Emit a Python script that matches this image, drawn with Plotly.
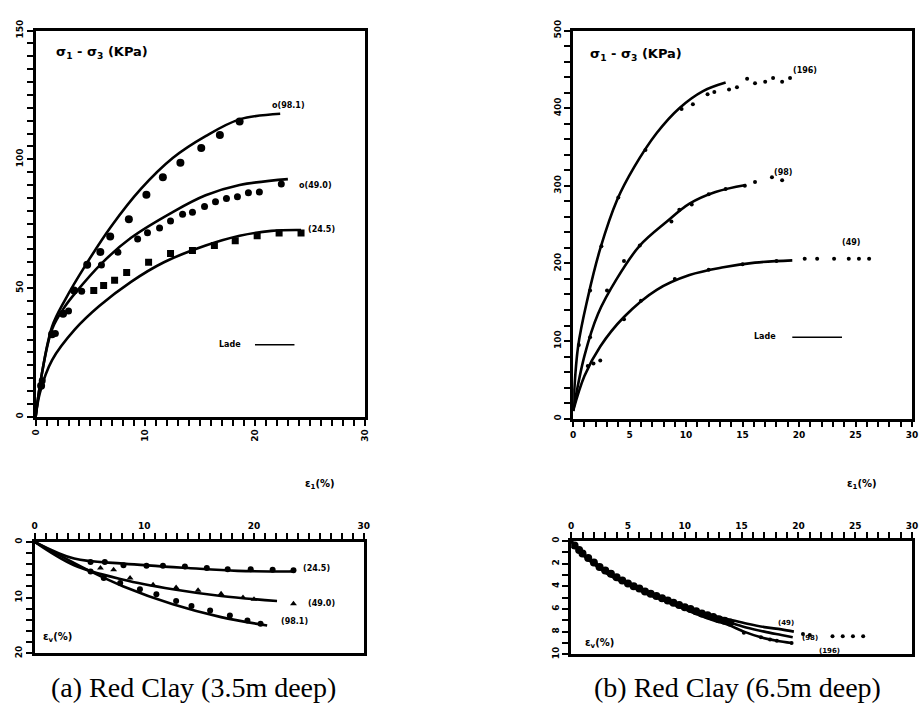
import plotly.graph_objects as go

W, H = 921, 717

# ---------------- data: (a) Red Clay 3.5 m, deviator stress ----------------
a_lade_981_x = [0, 0.5, 1.5, 2.7, 4.5, 6.9, 9.6, 12.5, 15.5, 18.6, 22.3]
a_lade_981_y = [0, 15, 35, 45.5, 58.5, 74, 88.5, 100.5, 109, 115.5, 117.7]
a_lade_490_x = [0, 0.5, 1.5, 2.7, 3.6, 6.0, 8.7, 12.5, 15.5, 18.6, 23.0]
a_lade_490_y = [0, 15, 34, 43, 48, 59.5, 69.5, 79.5, 86, 90, 92.3]
a_lade_245_x = [0, 0.4, 1.5, 3.6, 5.8, 8.7, 11.7, 15.5, 18.6, 21.5, 24.2]
a_lade_245_y = [0, 9.5, 22, 34, 43, 52.4, 60, 66.5, 70.3, 72.2, 72.5]

a_test_981_x = [0.5, 1.5, 2.5, 3.5, 4.7, 5.9, 6.8, 8.5, 10.1, 11.6, 13.2, 15.1, 16.8, 18.6]
a_test_981_y = [12, 32, 40, 49, 59, 64, 70, 76.7, 86.2, 93, 98.7, 104.4, 109.4, 114.7]
a_test_490_x = [0.6, 1.8, 3.0, 4.2, 6.0, 7.5, 9.3, 10.2, 11.3, 12.3, 13.4, 14.3, 15.4, 16.4,
                17.4, 18.4, 19.4, 20.4, 22.4]
a_test_490_y = [14, 32.3, 41.1, 48.7, 58.9, 63.9, 69, 71.5, 73.3, 76, 78.6, 79.4, 81.7, 83.5,
                84.8, 85.4, 87, 87.3, 90.4]
a_test_245_x = [5.3, 6.2, 7.2, 8.3, 10.3, 12.3, 14.3, 16.3, 18.2, 20.2, 22.2, 24.2]
a_test_245_y = [49, 51, 53, 56, 60, 63.4, 64.6, 66.5, 68.4, 70.3, 71.4, 71.4]

# ---------------- data: (a) volumetric strain ----------------
a_v_lade_245_x = [0, 3.6, 8.1, 14.0, 18.5, 23.6]
a_v_lade_245_y = [0, 3.0, 3.9, 4.7, 5.2, 5.3]
a_v_lade_490_x = [0, 3.6, 8.1, 12.6, 17.0, 22.1]
a_v_lade_490_y = [0, 4.2, 6.8, 8.5, 9.7, 10.6]
a_v_lade_981_x = [0, 5.1, 8.1, 12.6, 17.0, 21.2]
a_v_lade_981_y = [0, 5.3, 8.0, 11.2, 13.5, 15.0]

a_v_test_245_x = [5.1, 6.4, 8.1, 10.2, 11.7, 13.7, 15.7, 17.6, 19.7, 21.7, 23.6]
a_v_test_245_y = [3.6, 3.6, 4.2, 4.3, 4.3, 4.4, 4.7, 4.9, 4.9, 5.0, 5.1]
a_v_test_490_x = [6.0, 7.2, 8.7, 10.8, 12.9, 14.9, 17.0, 19.0, 20.0, 23.6]
a_v_test_490_y = [4.7, 5.0, 6.5, 7.7, 8.2, 8.7, 9.3, 10.0, 10.3, 11.1]
a_v_test_981_x = [5.1, 6.3, 7.8, 9.6, 11.1, 12.9, 14.3, 16.0, 17.8, 19.4, 20.6]
a_v_test_981_y = [5.3, 6.5, 7.4, 8.5, 9.4, 10.6, 11.5, 12.3, 13.2, 14.1, 14.7]

# ---------------- data: (b) Red Clay 6.5 m, deviator stress ----------------
b_lade_196_x = [0, 0.44, 1.3, 2.4, 3.9, 5.4, 7.4, 9.4, 11.5, 13.5]
b_lade_196_y = [10, 93, 156, 219, 282, 324, 368, 400, 422, 433]
b_lade_98_x = [0, 1.0, 2.2, 3.9, 5.9, 8.3, 10.3, 12.6, 15.3]
b_lade_98_y = [10, 81, 135, 181, 223, 254, 277, 292, 301]
b_lade_49_x = [0, 1.0, 2.4, 4.5, 7.4, 10.3, 13.3, 16.1, 19.4]
b_lade_49_y = [10, 55, 93, 131, 166, 185, 195, 201, 204]

b_test_196_x = [0.5, 1.5, 2.5, 4.0, 6.4, 9.6, 10.6, 11.9, 12.5, 13.8, 14.5, 15.4, 16.1, 17.0,
                17.7, 18.5, 19.2]
b_test_196_y = [95, 165, 222, 285, 346, 399, 405, 418, 421, 424, 427, 438, 432, 434, 439, 434, 439]
b_test_98_x = [1.5, 3.0, 4.5, 5.9, 8.7, 9.4, 10.5, 12.0, 13.5, 15.2, 16.1, 17.6, 18.5]
b_test_98_y = [105, 165, 203, 223, 254, 269, 276, 289, 296, 300, 305, 311, 307]
b_test_49_x = [1.3, 1.8, 2.4, 4.5, 6.0, 9.0, 12.0, 15.0, 18.0, 20.5, 21.6, 23.1, 24.4, 25.3, 26.2]
b_test_49_y = [68, 71, 75, 128, 152, 180, 192, 199, 203, 206, 206, 206, 206, 206, 206]

# ---------------- data: (b) volumetric strain ----------------
b_v_lade_49_x = [0, 1, 2.2, 3.5, 5.1, 6.5, 8, 9.5, 10.9, 12.5, 13.8, 15.5, 17, 18.5, 19.6]
b_v_lade_49_y = [0, 1.1, 2.0, 2.9, 3.7, 4.4, 5.0, 5.6, 6.1, 6.6, 6.9, 7.3, 7.6, 7.8, 8.0]
b_v_lade_98_x = [0, 1, 2.2, 3.5, 5.1, 6.5, 8, 9.5, 10.9, 12.5, 13.8, 15.5, 17, 18.5, 19.5]
b_v_lade_98_y = [0, 1.15, 2.1, 3.0, 3.8, 4.5, 5.1, 5.7, 6.25, 6.8, 7.15, 7.65, 8.0, 8.3, 8.5]
b_v_lade_196_x = [0, 1, 2.2, 3.5, 5.1, 6.5, 8, 9.5, 10.9, 12.5, 13.8, 15.2, 16.7, 18.1, 19.4]
b_v_lade_196_y = [0, 1.2, 2.2, 3.1, 3.9, 4.6, 5.2, 5.8, 6.4, 7.0, 7.4, 8.0, 8.5, 8.8, 9.0]

b_v_test_x = [0.3, 0.7, 1.0, 1.5, 2.0, 2.5, 3.0, 3.5, 4.0, 4.5, 5.0, 5.5, 6.0, 6.5, 7.0, 7.5,
              8.0, 8.5, 9.0, 9.5, 10.0, 10.5, 11.0, 11.5, 12.0, 12.5, 13.0, 13.5, 14.0]
b_v_test_y = [0.4, 0.8, 1.1, 1.5, 1.9, 2.3, 2.6, 2.9, 3.2, 3.5, 3.75, 4.0, 4.2, 4.45, 4.65, 4.85,
              5.05, 5.25, 5.45, 5.65, 5.85, 6.0, 6.2, 6.4, 6.55, 6.7, 6.9, 7.05, 7.2]
b_v_test_196_x = [15.2, 16.7, 17.5, 18.1, 19.4]
b_v_test_196_y = [8.1, 8.5, 8.7, 8.8, 9.0]
b_v_test_98_x = [20.4, 21.0]
b_v_test_98_y = [8.2, 8.3]
b_v_test_49_x = [23.0, 23.9, 24.8, 25.7]
b_v_test_49_y = [8.4, 8.4, 8.4, 8.4]

# legend sample lines ("Lade ——"), in each panel's data units
a_key_x = [20.0, 23.6]
a_key_y = [28, 28]
b_key_x = [19.4, 23.8]
b_key_y = [105, 105]

# tick labels
a_top_xticks = [0, 10, 20, 30]
a_top_yticks = [0, 50, 100, 150]
b_top_xticks = [0, 5, 10, 15, 20, 25, 30]
b_top_yticks = [0, 100, 200, 300, 400, 500]
a_bot_yticks = [0, 10, 20]
b_bot_yticks = [0, 2, 4, 6, 8, 10]

# ---------------- figure ----------------
def px(x):
    return x / W

def py(y):
    return 1 - y / H

fig = go.Figure()

LW = 2.6
def lade(x, y, xa, ya, width=LW):
    fig.add_trace(go.Scatter(x=x, y=y, mode="lines",
                             line=dict(color="black", width=width, shape="spline", smoothing=1.0),
                             xaxis=xa, yaxis=ya, showlegend=False))

def test(x, y, xa, ya, size=7, symbol="circle"):
    fig.add_trace(go.Scatter(x=x, y=y, mode="markers", marker=dict(color="black", size=size, symbol=symbol),
                             xaxis=xa, yaxis=ya, showlegend=False))

# (a) top
lade(a_lade_981_x, a_lade_981_y, "x", "y")
lade(a_lade_490_x, a_lade_490_y, "x", "y")
lade(a_lade_245_x, a_lade_245_y, "x", "y")
test(a_test_981_x, a_test_981_y, "x", "y", 8)
test(a_test_490_x, a_test_490_y, "x", "y", 7)
test(a_test_245_x, a_test_245_y, "x", "y", 7, "square")
lade(a_key_x, a_key_y, "x", "y", 1.5)

# (b) top
lade(b_lade_196_x, b_lade_196_y, "x2", "y2")
lade(b_lade_98_x, b_lade_98_y, "x2", "y2")
lade(b_lade_49_x, b_lade_49_y, "x2", "y2")
test(b_test_196_x, b_test_196_y, "x2", "y2", 4)
test(b_test_98_x, b_test_98_y, "x2", "y2", 4)
test(b_test_49_x, b_test_49_y, "x2", "y2", 4)
lade(b_key_x, b_key_y, "x2", "y2", 1.5)

# (a) bottom
lade(a_v_lade_245_x, a_v_lade_245_y, "x3", "y3")
lade(a_v_lade_490_x, a_v_lade_490_y, "x3", "y3")
lade(a_v_lade_981_x, a_v_lade_981_y, "x3", "y3")
test(a_v_test_245_x, a_v_test_245_y, "x3", "y3", 6)
test(a_v_test_490_x, a_v_test_490_y, "x3", "y3", 6, "triangle-up")
test(a_v_test_981_x, a_v_test_981_y, "x3", "y3", 6)

# (b) bottom
lade(b_v_lade_49_x, b_v_lade_49_y, "x4", "y4")
lade(b_v_lade_98_x, b_v_lade_98_y, "x4", "y4")
lade(b_v_lade_196_x, b_v_lade_196_y, "x4", "y4")
test(b_v_test_x, b_v_test_y, "x4", "y4", 8)
test(b_v_test_196_x, b_v_test_196_y, "x4", "y4", 4)
test(b_v_test_98_x, b_v_test_98_y, "x4", "y4", 4)
test(b_v_test_49_x, b_v_test_49_y, "x4", "y4", 4)

tickfont = dict(family="DejaVu Sans", size=9, color="black", weight="bold")

def axis(domain, rng, labels, step, anchor, side=None, tickangle=0):
    lo, hi = min(rng), max(rng)
    n = int(round((hi - lo) / step))
    vals = [lo + i * step for i in range(n + 1)]
    texts = [str(v) if v in labels else " " for v in vals]
    d = dict(domain=domain, range=rng, tickmode="array", tickvals=vals, ticktext=texts,
             ticks="outside", ticklen=6, tickwidth=2, tickcolor="black",
             showline=True, linecolor="black", linewidth=LW, mirror=True,
             showgrid=False, zeroline=False, tickfont=tickfont, tickangle=tickangle,
             anchor=anchor)
    if side:
        d["side"] = side
    return d

fig.update_layout(
    width=W, height=H, margin=dict(l=0, r=0, t=0, b=0),
    paper_bgcolor="white", plot_bgcolor="white", showlegend=False,
    xaxis=axis([px(31), px(364)], [0, 30], a_top_xticks, 1, "y", tickangle=-90),
    yaxis=axis([py(415), py(20)], [0, 150], a_top_yticks, 5, "x", tickangle=-90),
    xaxis2=axis([px(575), px(918)], [0, 30], b_top_xticks, 1, "y2"),
    yaxis2=axis([py(417), py(20)], [0, 500], b_top_yticks, 20, "x2", tickangle=-90),
    xaxis3=axis([px(30), px(363)], [0, 30], a_top_xticks, 1, "y3", side="top"),
    yaxis3=axis([py(657), py(543)], [20, 0], a_bot_yticks, 2, "x3", tickangle=-90),
    xaxis4=axis([px(573), px(918)], [0, 30], b_top_xticks, 1, "y4", side="top"),
    yaxis4=axis([py(658), py(542)], [10, 0], b_bot_yticks, 1, "x4", tickangle=-90),
)

sans = dict(family="DejaVu Sans", color="black")
anns = []
def ann(text, x, y, size, xanchor="left", font=None, bold=True):
    f = dict(font or sans)
    f["size"] = size
    t = "<b>" + text + "</b>" if bold else text
    anns.append(dict(text=t, x=x, y=y, xref="paper", yref="paper", xanchor=xanchor,
                     yanchor="middle", showarrow=False, font=f))

ann("σ<sub>1</sub> - σ<sub>3</sub> (KPa)", px(50), py(42), 13)
ann("σ<sub>1</sub> - σ<sub>3</sub> (KPa)", px(590), py(45), 13)
ann("ε<sub>1</sub>(%)", px(302), py(484), 10)
ann("ε<sub>1</sub>(%)", px(850), py(484), 10)
ann("ε<sub>v</sub>(%)", px(36), py(641), 10)
ann("ε<sub>v</sub>(%)", px(585), py(647), 10)
ann("Lade", px(215), py(341), 8)
ann("Lade", px(756), py(333), 8)
# curve labels (a) top
ann("o(98.1)", px(268), py(97), 8)
ann("o(49.0)", px(296), py(178), 8)
ann("(24.5)", px(305), py(223), 8)
# (a) bottom
ann("(24.5)", px(300), py(570), 8)
ann("(49.0)", px(305), py(606), 8)
ann("(98.1)", px(277), py(624), 8)
# (b) top
ann("(196)", px(795), py(61), 8)
ann("(98)", px(776), py(165), 8)
ann("(49)", px(845), py(237), 8)
# (b) bottom
ann("(49)", px(780), py(626), 7)
ann("(98)", px(805), py(641), 7)
ann("(196)", px(822), py(655), 7)

serif = dict(family="Liberation Serif", color="black")
ann("(a) Red Clay (3.5m deep)", px(191), py(692), 28, "center", serif, bold=False)
ann("(b) Red Clay (6.5m deep)", px(741), py(692), 28, "center", serif, bold=False)

fig.update_layout(annotations=anns)

fig.write_html("out.html")
